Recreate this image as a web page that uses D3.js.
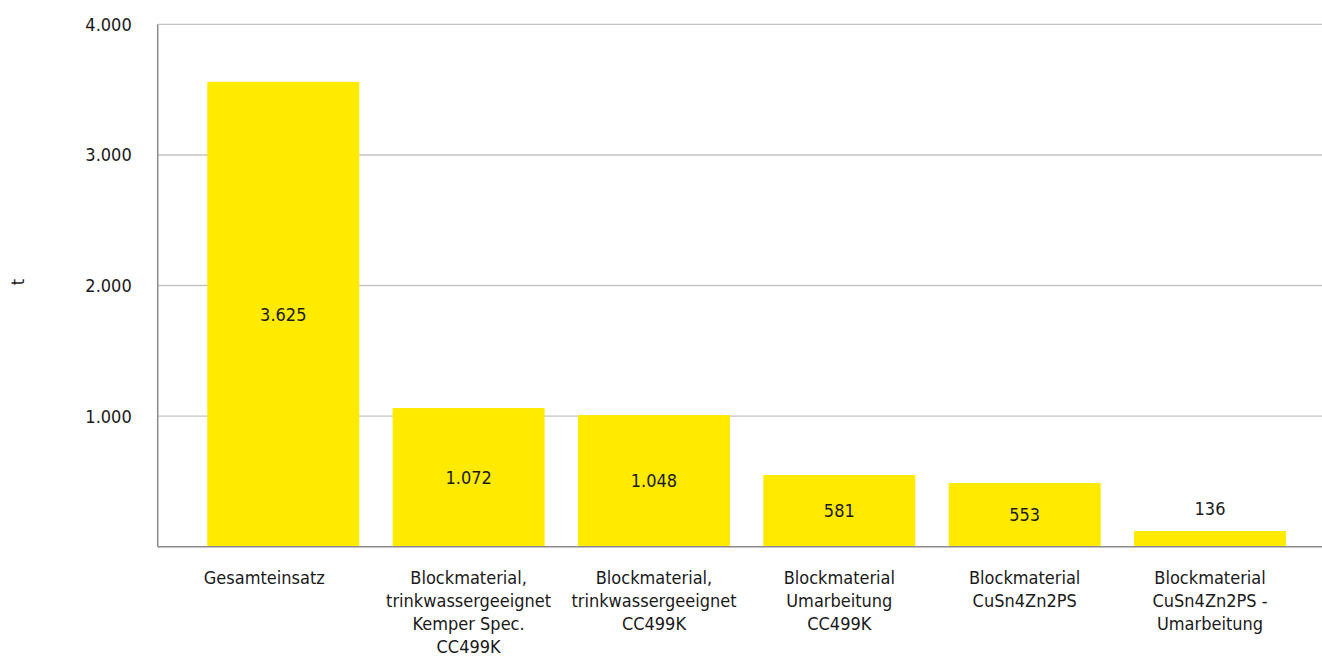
<!DOCTYPE html>
<html>
<head>
<meta charset="utf-8">
<script src="https://cdn.jsdelivr.net/npm/d3@7"></script>
<style>
  body { margin: 0; background: #fff; }
  svg text { font-family: "DejaVu Sans", sans-serif; font-stretch: condensed; fill: #1a1a1a; }
</style>
</head>
<body>
<div id="chart"></div>
<script>
// categories (lines of each x label)
var categories = [
  ["Gesamteinsatz"],
  ["Blockmaterial,", "trinkwassergeeignet", "Kemper Spec.", "CC499K"],
  ["Blockmaterial,", "trinkwassergeeignet", "CC499K"],
  ["Blockmaterial", "Umarbeitung", "CC499K"],
  ["Blockmaterial", "CuSn4Zn2PS"],
  ["Blockmaterial", "CuSn4Zn2PS -", "Umarbeitung"]
];
// bar heights as drawn in the picture (t)
var values = [3560, 1062, 1008, 549, 488, 120];
// data labels as printed on the bars
var valueLabels = ["3.625", "1.072", "1.048", "581", "553", "136"];
var yTicks = [1000, 2000, 3000, 4000];

var svgWidth = 1322;
var svgHeight = 659;

var svg = d3.select("#chart")
  .append("svg")
  .attr("width", svgWidth)
  .attr("height", svgHeight);

// plot area
var axisX = 157.7;
var plotTop = 24.4;
var plotBottom = 546.7;

var x = d3.scaleBand()
  .domain(d3.range(values.length))
  .range([190.6, 1302.7])
  .paddingInner(0.18)
  .paddingOuter(0.09);

var y = d3.scaleLinear()
  .domain([0, 4000])
  .range([plotBottom, plotTop]);

var fmt = d3.formatLocale({decimal: ",", thousands: ".", grouping: [3], currency: ["", ""]}).format(",d");

// gridlines
svg.append("g")
  .selectAll("line")
  .data(yTicks)
  .enter()
  .append("line")
  .attr("x1", axisX)
  .attr("x2", svgWidth)
  .attr("y1", d => y(d))
  .attr("y2", d => y(d))
  .attr("stroke", "#c4c4c4")
  .attr("stroke-width", 1.4);

// y axis labels
var leftAxis = d3.axisLeft(y)
  .tickValues(yTicks)
  .tickSize(0)
  .tickPadding(26)
  .tickFormat(fmt);

var yAxis = svg.append("g")
  .attr("transform", `translate(${axisX}, 0)`)
  .call(leftAxis);
yAxis.select(".domain").remove();
yAxis.selectAll("text")
  .attr("font-size", 18)
  .attr("font-family", null)
  .attr("dy", "0.33em");

// bars
svg.append("g")
  .selectAll("rect")
  .data(values)
  .enter()
  .append("rect")
  .attr("x", (d, i) => x(i))
  .attr("y", d => y(d))
  .attr("width", x.bandwidth())
  .attr("height", d => y(0) - y(d))
  .attr("fill", "#ffea00");

// value labels
svg.append("g")
  .selectAll("text")
  .data(values)
  .enter()
  .append("text")
  .attr("x", (d, i) => x(i) + x.bandwidth() / 2)
  .attr("y", d => (y(0) - y(d)) > 40 ? (y(d) + y(0)) / 2 : y(d) - 22)
  .attr("dy", "0.35em")
  .attr("text-anchor", "middle")
  .attr("font-size", 18)
  .text((d, i) => valueLabels[i]);

// axis lines
svg.append("line")
  .attr("x1", axisX).attr("x2", axisX)
  .attr("y1", plotTop).attr("y2", plotBottom)
  .attr("stroke", "#8a8a8a")
  .attr("stroke-width", 1.5);
svg.append("line")
  .attr("x1", axisX).attr("x2", svgWidth)
  .attr("y1", plotBottom).attr("y2", plotBottom)
  .attr("stroke", "#8a8a8a")
  .attr("stroke-width", 1.5);

// category labels
var catGroup = svg.append("g")
  .selectAll("text")
  .data(categories)
  .enter()
  .append("text")
  .attr("text-anchor", "middle")
  .attr("font-size", 18)
  .attr("transform", (d, i) => `translate(${x(i) + x.bandwidth() / 2 + (i === 0 ? -19 : 0)}, 584)`);

catGroup.selectAll("tspan")
  .data(d => d)
  .enter()
  .append("tspan")
  .attr("x", 0)
  .attr("dy", (d, i) => i === 0 ? 0 : 23)
  .text(d => d);

// y title
svg.append("text")
  .attr("transform", "translate(24, 282) rotate(-90)")
  .attr("text-anchor", "middle")
  .attr("font-size", 18)
  .text("t");
</script>
</body>
</html>
